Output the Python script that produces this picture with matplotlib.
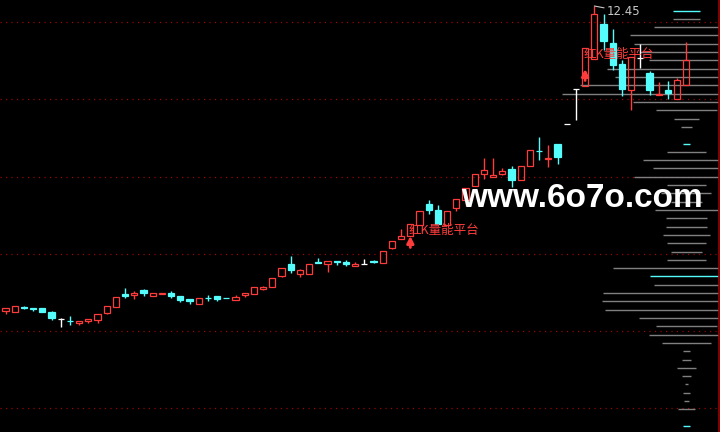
import matplotlib.pyplot as plt
import numpy as np

plt.rcParams["font.family"] = ["Noto Sans CJK SC", "DejaVu Sans"]

# daily K-line, oldest first
opens = [6.35, 6.33, 6.43, 6.41, 6.41, 6.33, 6.19, 6.16, 6.11, 6.16,
         6.18, 6.32, 6.44, 6.69, 6.68, 6.77, 6.66, 6.69, 6.71, 6.65,
         6.59, 6.50, 6.62, 6.65, 6.62, 6.58, 6.68, 6.70, 6.79, 6.84,
         7.06, 7.30, 7.10, 7.10, 7.33, 7.30, 7.35, 7.34, 7.26, 7.30,
         7.35, 7.32, 7.62, 7.80, 7.85, 8.08, 8.49, 8.37, 8.08, 8.42,
         8.57, 8.86, 9.10, 9.04, 9.10, 9.20, 8.96, 9.26, 9.56, 9.39,
         9.70, 10.09, 10.80, 10.85, 11.40, 12.10, 11.72, 11.29, 10.78, 11.41,
         11.12, 10.67, 10.78, 10.60, 10.87]
closes = [6.41, 6.45, 6.42, 6.40, 6.33, 6.21, 6.19, 6.15, 6.15, 6.20,
          6.29, 6.46, 6.64, 6.65, 6.72, 6.71, 6.72, 6.72, 6.65, 6.58,
          6.55, 6.61, 6.61, 6.60, 6.61, 6.64, 6.72, 6.83, 6.83, 7.02,
          7.22, 7.17, 7.18, 7.30, 7.32, 7.36, 7.34, 7.29, 7.30, 7.30,
          7.34, 7.55, 7.76, 7.86, 8.09, 8.35, 8.37, 8.10, 8.35, 8.59,
          8.81, 9.10, 9.18, 9.07, 9.15, 8.97, 9.26, 9.56, 9.55, 9.41,
          9.44, 10.09, 10.80, 11.61, 12.29, 11.76, 11.27, 10.79, 11.44, 11.41,
          10.77, 10.69, 10.71, 10.97, 11.38]
highs = [6.41, 6.45, 6.45, 6.41, 6.41, 6.35, 6.21, 6.25, 6.15, 6.20,
         6.29, 6.46, 6.64, 6.81, 6.76, 6.79, 6.72, 6.72, 6.75, 6.65,
         6.59, 6.61, 6.67, 6.65, 6.62, 6.67, 6.72, 6.83, 6.86, 7.02,
         7.22, 7.45, 7.20, 7.30, 7.42, 7.36, 7.36, 7.37, 7.34, 7.39,
         7.37, 7.55, 7.76, 8.00, 8.09, 8.35, 8.57, 8.47, 8.35, 8.59,
         8.81, 9.10, 9.41, 9.41, 9.22, 9.26, 9.26, 9.56, 9.83, 9.67,
         9.70, 10.09, 10.80, 11.61, 12.45, 12.30, 12.00, 11.37, 11.44, 11.70,
         11.16, 10.94, 10.95, 11.02, 11.74]
lows = [6.29, 6.33, 6.39, 6.35, 6.33, 6.17, 6.03, 6.07, 6.07, 6.11,
        6.12, 6.29, 6.44, 6.61, 6.60, 6.66, 6.66, 6.69, 6.62, 6.54,
        6.50, 6.50, 6.56, 6.55, 6.61, 6.58, 6.64, 6.70, 6.77, 6.84,
        7.04, 7.12, 7.04, 7.10, 7.32, 7.14, 7.27, 7.25, 7.26, 7.30,
        7.32, 7.32, 7.60, 7.80, 7.85, 8.08, 8.30, 8.10, 8.08, 8.36,
        8.45, 8.86, 9.00, 9.04, 9.07, 8.84, 8.96, 9.26, 9.37, 9.24,
        9.30, 10.09, 10.18, 10.85, 11.40, 11.57, 11.17, 10.66, 10.37, 11.22,
        10.68, 10.67, 10.59, 10.60, 10.87]

# 红K量能平台 signals
signal_days = [44, 63]
signal_arrow_tip = [7.85, 11.19]
signal_text = "红K量能平台"

peak_day = 64
peak_label = "12.45"

grid_levels = [12.14, 10.59, 9.04, 7.50, 5.95, 4.41]

# chip distribution (price bin -> amount)
chip_prices = [12.36, 12.20, 12.03, 11.87, 11.70, 11.53, 11.37, 11.20, 11.03, 10.87,
               10.70, 10.54, 10.37, 10.20, 10.04, 9.70, 9.54, 9.37, 9.21, 9.04,
               8.87, 8.71, 8.54, 8.37, 8.21, 8.04, 7.88, 7.71, 7.54, 7.38,
               7.21, 7.05, 6.88, 6.71, 6.55, 6.38, 6.21, 6.05, 5.88, 5.72,
               5.55, 5.38, 5.22, 5.05, 4.89, 4.72, 4.55, 4.39, 4.05]
chip_amount = [27, 27, 65, 113, 105, 93, 74, 159, 143, 213,
               248, 107, 61, 25, 11, 7, 39, 87, 67, 105,
               39, 50, 31, 63, 41, 41, 47, 39, 31, 39,
               147, 73, 65, 167, 169, 163, 95, 61, 75, 49,
               7, 9, 19, 9, 3, 7, 5, 17, 7]
chip_marked = [12.36, 9.70, 7.05, 4.05]

RED = "#FF3C3C"
CYAN = "#54FCFC"
GRAY = "#808080"
CHIP_SCALE = 1 / 9.2
BODY_W = 0.68

fig = plt.figure(figsize=(7.2, 4.32), dpi=100, facecolor="black")
ax = fig.add_axes([0, 0, 719 / 720, 1])
ax.set_facecolor("black")

x = np.arange(len(opens))

for level in grid_levels:
    ax.axhline(level, color="#A80000", lw=0.9, linestyle=(0, (0.9, 3.5)),
               zorder=1)

# chip bars centred on the last bar
center = x[-1]
half = np.array(chip_amount) * CHIP_SCALE / 2
chip_colors = [CYAN if p in chip_marked else GRAY for p in chip_prices]
ax.hlines(chip_prices, center - half, center + half, colors=chip_colors,
          lw=1, zorder=2)

for i in x:
    o, c, h, l = opens[i], closes[i], highs[i], lows[i]
    if c > o:
        col, face = RED, "none"
    elif c < o:
        col, face = CYAN, CYAN
    else:
        col, face = "white", "white"
    top, bot = max(o, c), min(o, c)
    if h > top:
        ax.vlines(i, top, h, color=col, lw=1, zorder=3)
    if l < bot:
        ax.vlines(i, l, bot, color=col, lw=1, zorder=3)
    ax.bar(i, top - bot, bottom=bot, width=BODY_W, facecolor=face,
           edgecolor=col, linewidth=0.9, zorder=4)

for day, tip in zip(signal_days, signal_arrow_tip):
    ax.annotate("", xy=(day, tip), xytext=(day, tip - 0.23),
                arrowprops=dict(arrowstyle="-|>", color=RED, lw=2,
                                mutation_scale=10, shrinkA=0, shrinkB=0),
                zorder=5)
    ax.text(day - 0.2, closes[day], signal_text, color=RED, fontsize=9,
            ha="left", va="top", zorder=5)

ax.annotate(peak_label, xy=(peak_day, highs[peak_day]), xytext=(9, -4),
            textcoords="offset points", color="#C8C8C8", fontsize=8.5,
            family="DejaVu Sans", ha="left", va="center",
            arrowprops=dict(arrowstyle="-", color="#C8C8C8", lw=0.8,
                            shrinkA=0, shrinkB=0))

fig.text(582 / 720, 1 - 207 / 432, "www.6o7o.com", family="Liberation Sans",
         weight="bold", fontsize=24, color="white", ha="center",
         va="baseline", zorder=10)

ax.set_xlim(-0.6, 77.55)
ax.set_ylim(3.93, 12.57)
ax.set_xticks([])
ax.set_yticks([])
for side in ["top", "left", "bottom"]:
    ax.spines[side].set_visible(False)
ax.spines["right"].set_color("#A00000")
ax.spines["right"].set_linewidth(1.2)

fig.savefig("out.png", dpi=100, facecolor="black")
